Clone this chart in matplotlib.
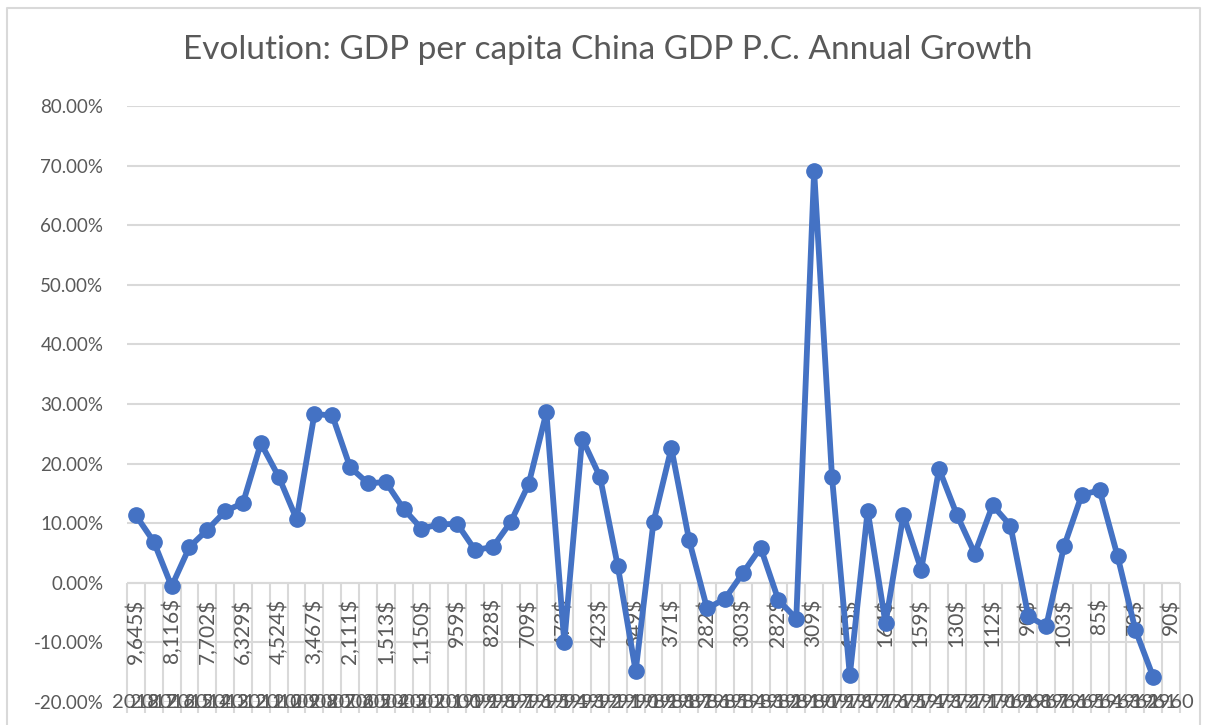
import matplotlib
matplotlib.use("Agg")
import matplotlib.pyplot as plt
from matplotlib.lines import Line2D
from matplotlib.ticker import FuncFormatter, MultipleLocator

# Datos: años (de 2018 a 1960), PIB per cápita (US$) y crecimiento anual (%)
years = list(range(2018, 1959, -1))
gdp = [9645, 8666, 8116, 8167, 7702, 7078, 6329, 5581, 4524, 3832,
       3467, 2702, 2111, 1768, 1513, 1288, 1150, 1053, 959, 873,
       828, 782, 709, 610, 473, 526, 423, 359, 349, 410,
       371, 303, 282, 295, 303, 298, 282, 290, 309, 183,
       155, 183, 164, 176, 159, 156, 130, 117, 112, 99,
       90, 95, 103, 97, 85, 74, 70, 76, 90]
growth = [11.3, 6.9, -0.6, 6.0, 8.9, 12.0, 13.4, 23.4, 17.8, 10.7,
          28.3, 28.1, 19.4, 16.7, 16.9, 12.4, 9.1, 9.8, 9.9, 5.5,
          6.0, 10.2, 16.5, 28.6, -10.0, 24.2, 17.8, 2.8, -14.8, 10.2,
          22.6, 7.1, -4.3, -2.7, 1.6, 5.9, -2.9, -6.0, 69.1, 17.8,
          -15.5, 12.1, -6.8, 11.4, 2.2, 19.1, 11.4, 4.9, 13.0, 9.6,
          -5.6, -7.3, 6.1, 14.8, 15.5, 4.5, -7.9, -15.8]

text_color = "#595959"
grid_color = "#d9d9d9"
line_color = "#4472C4"
plt.rcParams["font.family"] = ["Lato", "DejaVu Sans"]

fig = plt.figure(figsize=(12.05, 7.25), dpi=100)
ax = fig.add_axes([127 / 1205, 23 / 725, 1053 / 1205, 596 / 725])

n = len(years)
xs = [i + 0.5 for i in range(len(growth))]
ax.plot(xs, [g / 100 for g in growth], color=line_color, lw=4.2,
        marker="o", ms=11, zorder=5, clip_on=False)

ax.set_xlim(0, n)
ax.set_ylim(-0.2, 0.8)
ax.yaxis.set_major_locator(MultipleLocator(0.1))
ax.yaxis.set_major_formatter(FuncFormatter(lambda v, p: f"{v * 100:.2f}%"))
ax.grid(axis="y", color=grid_color, lw=1.5)
ax.set_axisbelow(True)
ax.set_xticks([])
for s in ax.spines.values():
    s.set_visible(False)
ax.tick_params(axis="y", length=0, pad=17, labelsize=13.5, labelcolor=text_color)

# eje de categorías a la altura del 0 %
ax.axhline(0, color=grid_color, lw=1.5, zorder=1)
ax.vlines(range(n + 1), -0.218, 0, color=grid_color, lw=1.5, clip_on=False, zorder=1)

for i, (yr, v) in enumerate(zip(years, gdp)):
    if i % 2 == 0:
        ax.text(i + 0.5, -0.026, f"{v:,}$", rotation=90, ha="center", va="top",
                fontsize=15, color=text_color, zorder=3)
    ax.text(i + 0.5, -0.2, str(yr), ha="center", va="center",
            fontsize=14.5, color=text_color, clip_on=False, zorder=3)

fig.text(608 / 1205, 1 - 50 / 725, "Evolution: GDP per capita China GDP P.C. Annual Growth",
         ha="center", va="center", fontsize=24, color=text_color)

# borde del gráfico
fig.add_artist(Line2D([7 / 1205, 7 / 1205, 1200 / 1205, 1200 / 1205],
                      [0, 1 - 8 / 725, 1 - 8 / 725, 0],
                      transform=fig.transFigure, color=grid_color, lw=1.5))

fig.savefig("out.png", dpi=100)
